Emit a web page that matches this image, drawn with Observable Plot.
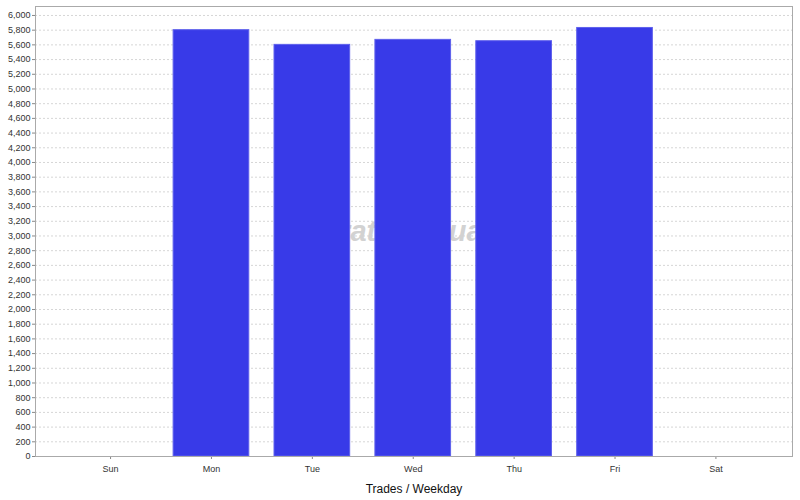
<!DOCTYPE html>
<html>
<head>
<meta charset="utf-8">
<script src="https://cdn.jsdelivr.net/npm/d3@7"></script>
<script src="https://cdn.jsdelivr.net/npm/@observablehq/plot@0.6"></script>
<style>
  html, body { margin: 0; padding: 0; background: #fff; }
  svg { display: block; }
</style>
</head>
<body>
<div id="chart"></div>
<script>
const weekdays = ["Sun", "Mon", "Tue", "Wed", "Thu", "Fri", "Sat"];
const trades = [0, 5800, 5600, 5668, 5650, 5830, 0];
const yTicks = d3.range(0, 6001, 200);
const xTitle = "Trades / Weekday";
const watermark = "StrategyQuant";

const data = weekdays.map((d, i) => ({day: d, value: trades[i]}));

const chart = Plot.plot({
  width: 800,
  height: 500,
  marginLeft: 35,
  marginRight: 8,
  marginTop: 6,
  marginBottom: 44,
  style: {fontFamily: "'Liberation Sans', Arial, sans-serif", fontSize: "9px", color: "#333", background: "#fff"},
  x: {domain: weekdays, paddingInner: 0.25, paddingOuter: 0.3765, align: 0.49, round: false, label: null},
  y: {domain: [0, 6122], label: null},
  marks: [
    Plot.gridY(yTicks, {stroke: "#d6d6d6", strokeOpacity: 1, strokeDasharray: "2,2", strokeWidth: 1}),
    Plot.text([watermark], {frameAnchor: "middle", dx: -4, dy: 0, fontSize: 29, fontWeight: "bold", fontStyle: "italic", fill: "#d2d2d2", fontFamily: "'Liberation Sans', Arial, sans-serif"}),
    Plot.barY(data, {x: "day", y: "value", fill: "#383ae8", stroke: "#5f61ec", strokeWidth: 1}),
    Plot.axisY(yTicks, {tickSize: 3, tickPadding: 2, tickFormat: d3.format(","), stroke: "#888", fill: "#333", fontSize: 9}),
    Plot.axisX({tickSize: 3, tickPadding: 6, stroke: "#888", fill: "#333", fontSize: 9, label: null}),
    Plot.frame({stroke: "#aaaaaa"}),
    Plot.text([xTitle], {frameAnchor: "bottom", dy: 36, fontSize: 12, fill: "#111", fontFamily: "'Liberation Sans', Arial, sans-serif"})
  ]
});
document.getElementById("chart").appendChild(chart);
</script>
</body>
</html>
